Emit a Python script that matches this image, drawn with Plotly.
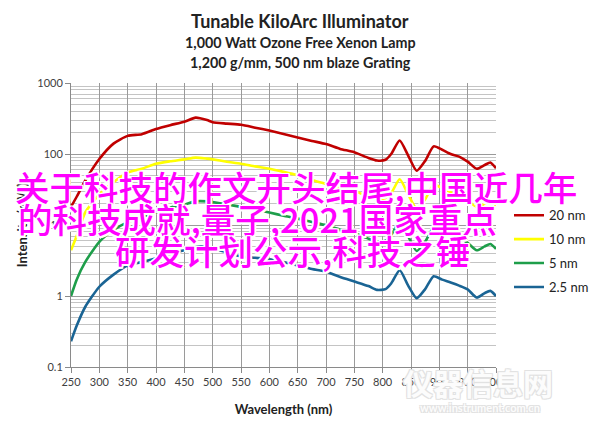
import plotly.graph_objects as go

wavelength = [250, 260, 275, 300, 325, 350, 375, 400, 425, 450, 470, 490, 500, 525, 550, 575,
              600, 625, 650, 675, 700, 725, 750, 775, 790, 805, 815, 830, 845, 860, 875, 890,
              905, 920, 935, 950, 966, 980, 990, 1000]

nm20 = [18, 25, 42, 85, 140, 180, 190, 225, 255, 285, 325, 300, 280, 268, 258, 235,
        214, 192, 171, 153, 138, 118, 106, 88, 81, 83, 100, 155, 95, 58, 80, 128,
        115, 100, 92, 78, 62, 70, 76, 63]

nm10 = [4.4, 7, 15, 27, 40, 55, 62, 73, 79, 84, 89, 86, 84, 78, 73, 67,
        62, 56, 50, 43, 38, 33, 30, 25, 23, 24, 28, 44, 27, 17, 23, 37,
        33, 29, 26, 22, 18, 20, 22, 19]

nm5 = [1.0, 1.7, 3.0, 5.8, 8.5, 11, 13, 15, 17.5, 19.5, 21.5, 21.5, 21, 19.5, 18, 16.5,
       15, 13.5, 12.3, 11, 9.9, 8.6, 7.7, 6.4, 5.9, 6.0, 7.2, 11, 6.9, 4.3, 5.8, 9.2,
       8.3, 7.2, 6.6, 5.6, 4.4, 5.0, 5.4, 4.6]

nm2_5 = [0.23, 0.38, 0.7, 1.35, 2.0, 2.7, 3.0, 3.4, 3.9, 4.4, 4.9, 4.9, 4.7, 4.1, 3.6, 3.45,
         3.3, 3.0, 2.7, 2.4, 2.2, 1.85, 1.6, 1.38, 1.22, 1.25, 1.5, 2.3, 1.4, 0.93, 1.25, 1.9,
         1.7, 1.55, 1.4, 1.24, 0.95, 1.1, 1.18, 1.0]

series_names = ["20 nm", "10 nm", "5 nm", "2.5 nm"]
series_colors = ["#C00000", "#FFFF00", "#1E9E4A", "#1A6494"]

x_ticks = [250, 300, 350, 400, 450, 500, 550, 600, 650, 700, 750, 800, 850, 900, 950, 1000]
y_tickvals = [0.1, 1, 10, 100, 1000]
y_ticktext = ["0.1", "1", "10", "100", "1000"]
y_minor = [m * d for d in [0.1, 1, 10, 100] for m in range(2, 10)]

title_lines = ["Tunable KiloArc Illuminator",
               "1,000 Watt Ozone Free Xenon Lamp",
               "1,200 g/mm, 500 nm blaze Grating"]
overlay_lines = ["关于科技的作文开头结尾,中国近几年",
                 "的科技成就,量子,2021国家重点",
                 "研发计划公示,科技之锤"]

W, H = 600, 430
OFF = 8  # page body margin offset
# target screen positions of plot area
L, R, T, B = 71, 496, 82.5, 367

def px_x(p):
    return (p - L) / (R - L)

def px_y(p):
    return (B - p) / (B - T)

fig = go.Figure()
for name, vals, col in zip(series_names, [nm20, nm10, nm5, nm2_5], series_colors):
    fig.add_trace(go.Scatter(x=wavelength, y=vals, mode="lines", name=name,
                             legendgroup=name,
                             line=dict(color=col, width=2.6, shape="spline", smoothing=0.6)))

base_font = "Lato, 'Open Sans', sans-serif"

fig.update_layout(
    width=W, height=H,
    margin=dict(l=L - OFF, r=W - R + OFF, t=T - OFF, b=H - B + OFF, autoexpand=False),
    paper_bgcolor="white", plot_bgcolor="white",
    font=dict(family=base_font, color="#333333", size=11),
    showlegend=True,
    legend=dict(x=px_x(509), y=px_y(200), xanchor="left", yanchor="top",
                font=dict(size=13, color="#222222", family=base_font),
                itemwidth=30, tracegroupgap=4, traceorder="grouped",
                bgcolor="rgba(0,0,0,0)"),
)

fig.update_xaxes(range=[250, 1000], tickvals=x_ticks, ticks="outside", ticklen=5,
                 tickcolor="#8a8a8a", showgrid=True, gridcolor="#9a9a9a", gridwidth=1,
                 showline=True, linecolor="#8a8a8a", linewidth=1, zeroline=False,
                 tickfont=dict(size=11, color="#404040"), automargin=False,
                 title=dict(text="<b>Wavelength (nm)</b>", font=dict(size=13, color="#222222"),
                            standoff=17))

fig.update_yaxes(type="log", range=[-1, 3], tickvals=y_tickvals, ticktext=y_ticktext,
                 ticks="outside", ticklen=5, tickcolor="#8a8a8a",
                 showgrid=True, gridcolor="#9a9a9a", gridwidth=1,
                 showline=True, linecolor="#8a8a8a", linewidth=1, zeroline=False,
                 minor=dict(tickvals=y_minor, showgrid=True, gridcolor="#c4c4c4", gridwidth=1,
                            ticks=""),
                 tickfont=dict(size=11, color="#404040"), automargin=False,
                 title=dict(text="<b>Intensity (mW)</b>", font=dict(size=13, color="#222222"),
                            standoff=6))

# Title lines
title_sizes = [18, 14.3, 14.3]
title_y = [20, 42, 62]
for txt, sz, yy in zip(title_lines, title_sizes, title_y):
    fig.add_annotation(text=f"<b>{txt}</b>", xref="paper", yref="paper",
                       x=px_x(300), y=px_y(yy), xanchor="center", yanchor="middle",
                       showarrow=False, font=dict(size=sz, color="#222222", family=base_font))

# Watermark
wm_shadow = "-1px -1px 0 #e2e2e2, 1px -1px 0 #e2e2e2, -1px 1px 0 #e2e2e2, 1px 1px 0 #e2e2e2"
fig.add_annotation(text="仪器信息网", xref="paper", yref="paper", x=px_x(478), y=px_y(382),
                   xanchor="center", yanchor="middle", showarrow=False,
                   font=dict(size=30, color="#fcfcfc", family="Noto Sans CJK SC", shadow=wm_shadow,
                             weight="bold"))
fig.add_annotation(text="www.instrument.com.cn", xref="paper", yref="paper", x=px_x(480), y=px_y(408),
                   xanchor="center", yanchor="middle", showarrow=False,
                   font=dict(size=11, color="#fcfcfc", family=base_font, shadow=wm_shadow, weight="bold"))

# Chinese overlay text
ov_shadow = ("-1.5px -1.5px 0 #ffffff, 1.5px -1.5px 0 #ffffff, -1.5px 1.5px 0 #ffffff, "
             "1.5px 1.5px 0 #ffffff, 0 -1.5px 0 #ffffff, 0 1.5px 0 #ffffff, -1.5px 0 0 #ffffff, 1.5px 0 0 #ffffff")
ov_x = [296, 257, 292]
ov_y = [186, 218, 250]
for txt, xx, yy in zip(overlay_lines, ov_x, ov_y):
    fig.add_annotation(text=txt, xref="paper", yref="paper", x=px_x(xx), y=px_y(yy),
                       xanchor="center", yanchor="middle", showarrow=False,
                       font=dict(size=34.5, color="#FF00FF", family="Noto Sans CJK SC",
                                 weight=500, shadow=ov_shadow))

fig.write_html("out.html")
